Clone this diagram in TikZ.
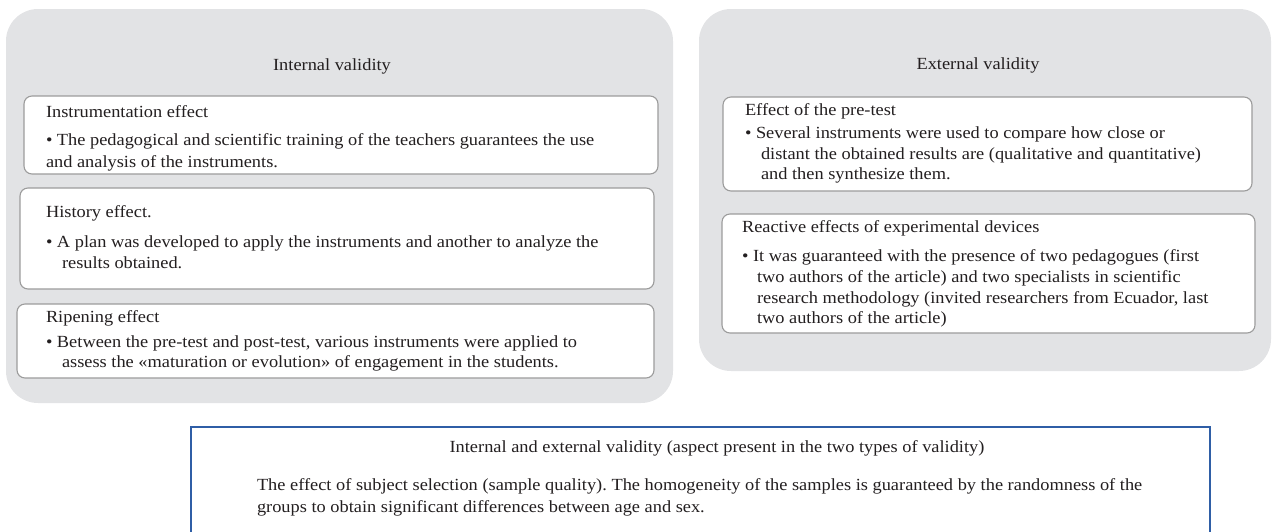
\documentclass[tikz,border=0pt]{standalone}
\usepackage{fontspec}
\setmainfont{Liberation Serif}[FakeStretch=1.08]
\frenchspacing
\definecolor{panelgray}{HTML}{E2E3E5}
\definecolor{boxgray}{HTML}{9C9C9C}
\definecolor{bluebox}{HTML}{2F5EA6}
\definecolor{txtc}{HTML}{231F20}
\newcommand\fsA{\fontsize{17pt}{20pt}\selectfont}
\newcommand\fsB{\fontsize{17pt}{20pt}\selectfont}
\tikzset{
  panel/.style={draw=none, fill=panelgray, rounded corners=32pt, inner sep=0pt, outer sep=0pt},
  ibox/.style={draw=boxgray, line width=1.1pt, fill=white, rounded corners=8pt, inner sep=0pt, outer sep=0pt},
  bbox/.style={draw=bluebox, line width=1.1pt, fill=white, inner sep=0pt, outer sep=0pt},
  txt/.style={anchor=base west, inner sep=0pt, outer sep=0pt, font=\fsA, text=txtc},
  ttl/.style={anchor=base, inner sep=0pt, outer sep=0pt, font=\fsA, text=txtc},
  btxt/.style={anchor=base west, inner sep=0pt, outer sep=0pt, font=\fsB, text=txtc},
  bttl/.style={anchor=base, inner sep=0pt, outer sep=0pt, font=\fsB, text=txtc},
}
\begin{document}
\begin{tikzpicture}[x=1pt,y=-1pt]
\useasboundingbox (0,0) rectangle (1272,531);
% panels
\node[panel, minimum width=667pt, minimum height=394pt] (lp) at (339.5,206) {};
\node[panel, minimum width=572pt, minimum height=362pt] (rp) at (985,190) {};
% left inner boxes
\node[ibox, minimum width=634pt, minimum height=78pt] (inst) at (341,135) {};
\node[ibox, minimum width=634pt, minimum height=101pt] (hist) at (337,238.5) {};
\node[ibox, minimum width=637pt, minimum height=74pt] (rip) at (335.5,341) {};
% right inner boxes
\node[ibox, minimum width=529pt, minimum height=94pt] (pre) at (987.5,144) {};
\node[ibox, minimum width=533pt, minimum height=119pt] (rea) at (988.5,273.5) {};
% bottom box
\node[bbox, minimum width=1019pt, minimum height=118pt] (bot) at (700.5,486) {};

% left texts
\node[ttl] (lt) at (332,70) {Internal validity};
\node[txt] (i1) at (46,117) {Instrumentation effect};
\node[txt] (i2) at (46,145) {• The pedagogical and scientific training of the teachers guarantees the use};
\node[txt] (i3) at (46,167) {and analysis of the instruments.};
\node[txt] (h1) at (46,217) {History effect.};
\node[txt] (h2) at (46,247) {• A plan was developed to apply the instruments and another to analyze the};
\node[txt] (h3) at (62,268) {results obtained.};
\node[txt] (r1) at (46,322) {Ripening effect};
\node[txt] (r2) at (46,347) {• Between the pre-test and post-test, various instruments were applied to};
\node[txt] (r3) at (62,367) {assess the «maturation or evolution» of engagement in the students.};

% right texts
\node[ttl] (rt) at (978,69) {External validity};
\node[txt] (p1) at (745,115) {Effect of the pre-test};
\node[txt] (p2) at (745,138) {• Several instruments were used to compare how close or};
\node[txt] (p3) at (761,159) {distant the obtained results are (qualitative and quantitative)};
\node[txt] (p4) at (761,179) {and then synthesize them.};
\node[txt] (e1) at (742,232) {Reactive effects of experimental devices};
\node[txt] (e2) at (742,261) {• It was guaranteed with the presence of two pedagogues (first};
\node[txt] (e3) at (757,282) {two authors of the article) and two specialists in scientific};
\node[txt] (e4) at (757,303) {research methodology (invited researchers from Ecuador, last};
\node[txt] (e5) at (757,323) {two authors of the article)};

% bottom texts
\node[bttl] (bt) at (717,452) {Internal and external validity (aspect present in the two types of validity)};
\node[btxt] (b1) at (257,490) {The effect of subject selection (sample quality). The homogeneity of the samples is guaranteed by the randomness of the};
\node[btxt] (b2) at (257,512) {groups to obtain significant differences between age and sex.};
\end{tikzpicture}
\end{document}
